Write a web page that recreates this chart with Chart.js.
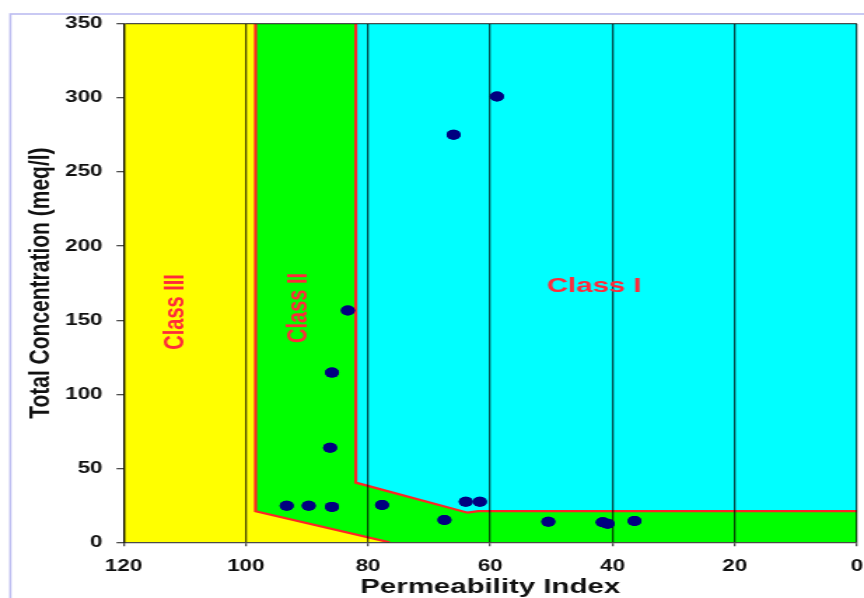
<!DOCTYPE html>
<html>
<head>
<meta charset="utf-8">
<script src="https://cdn.jsdelivr.net/npm/chart.js@4.4.1/dist/chart.umd.min.js"></script>
<style>
  html, body { margin: 0; padding: 0; background: #fff; overflow: hidden; }
  /* the original picture is stretched sideways, so draw narrow and widen it */
  #wrap { width: 617px; height: 598px; transform: scaleX(1.4003); transform-origin: 0 0; }
</style>
</head>
<body>
<div id="wrap"><canvas id="piChart" width="617" height="598"></canvas></div>
<script>
// samples: permeability index vs total concentration
const permIndex = [83.3, 85.9, 86.2, 93.3, 89.7, 85.9, 77.7, 67.5, 64.0, 61.7, 50.5, 41.6, 40.8, 36.4, 58.9, 66.0];
const totalConc = [156.5, 114.6, 63.9, 24.7, 24.7, 23.9, 25.2, 15.0, 27.4, 27.4, 13.9, 13.5, 12.5, 14.4, 301.1, 275.2];

// class regions (closed polygons, data units)
const class3X = [120, 120, 0, 0, 120];
const class3Y = [0, 350, 350, 0, 0];
const class2X = [98.4, 98.4, 76.5, 0, 0, 98.4];
const class2Y = [350, 21, 0, 0, 350, 350];
const class1X = [82, 82, 63.7, 62, 0, 0, 82];
const class1Y = [350, 40.3, 20, 21, 21, 350, 350];

// red boundary lines
const bound2X = [98.4, 98.4, 76.5];
const bound2Y = [350, 21, 0];
const bound1X = [82, 82, 63.7, 62, 0];
const bound1Y = [350, 40.3, 20, 21, 21];

const xTickValues = [120, 100, 80, 60, 40, 20, 0];
const yTickValues = [0, 50, 100, 150, 200, 250, 300, 350];

const classLabels = ['Class I', 'Class II', 'Class III'];
const labelX = [43, 91.3, 111.4];
const labelY = [173, 158.3, 155.6];
const labelRotated = [false, true, true];

const FONT = '"Liberation Sans", Arial, sans-serif';
const GRID = 'rgba(0,0,0,0.7)';

const toPoints = (xs, ys) => xs.map((v, i) => ({ x: v, y: ys[i] }));

function regionDataset(xs, ys, color, order) {
    return {
        type: 'line',
        data: toPoints(xs, ys),
        backgroundColor: color,
        borderWidth: 0,
        pointRadius: 0,
        fill: 'shape',
        order: order
    };
}

function boundaryDataset(xs, ys) {
    return {
        type: 'line',
        data: toPoints(xs, ys),
        borderColor: '#ff2424',
        borderWidth: 2.2,
        pointRadius: 0,
        fill: false,
        order: 1
    };
}

const framePlugin = {
    id: 'frame',
    beforeDraw(chart) {
        const ctx = chart.ctx;
        ctx.save();
        ctx.strokeStyle = '#bcbcf0';
        ctx.lineWidth = 1.6;
        ctx.strokeRect(7.4, 14, 800, 800);
        ctx.restore();
    }
};

const overlayPlugin = {
    id: 'overlay',
    afterDraw(chart) {
        // put the sample dots back above the grid lines
        chart.getDatasetMeta(0).controller.draw();

        const { ctx, scales: { x, y } } = chart;
        ctx.save();
        ctx.fillStyle = '#ff2a3a';
        ctx.textAlign = 'center';
        ctx.textBaseline = 'middle';
        classLabels.forEach((text, i) => {
            ctx.save();
            ctx.translate(x.getPixelForValue(labelX[i]), y.getPixelForValue(labelY[i]));
            if (labelRotated[i]) ctx.rotate(-Math.PI / 2);
            ctx.font = `bold ${labelRotated[i] ? 20 : 21}px ${FONT}`;
            ctx.fillText(text, 0, 0);
            ctx.restore();
        });
        ctx.restore();
    }
};

new Chart(document.getElementById('piChart'), {
    type: 'scatter',
    data: {
        datasets: [
            {
                data: toPoints(permIndex, totalConc),
                backgroundColor: '#000080',
                borderWidth: 0,
                pointRadius: 5,
                order: 0
            },
            boundaryDataset(bound1X, bound1Y),
            boundaryDataset(bound2X, bound2Y),
            regionDataset(class1X, class1Y, '#00ffff', 2),
            regionDataset(class2X, class2Y, '#00ff00', 3),
            regionDataset(class3X, class3Y, '#ffff00', 4)
        ]
    },
    options: {
        responsive: false,
        animation: false,
        devicePixelRatio: 1,
        layout: { padding: { top: 24, right: 4.1, bottom: 0, left: 0 } },
        plugins: {
            legend: { display: false },
            tooltip: { enabled: false }
        },
        scales: {
            x: {
                type: 'linear',
                reverse: true,
                min: 0,
                max: 120,
                afterBuildTicks: s => { s.ticks = xTickValues.map(v => ({ value: v })); },
                afterFit: s => { s.height = 55.7; s.paddingLeft = 0; s.paddingRight = 0; },
                grid: { z: 1, color: GRID, lineWidth: 1.3, tickColor: GRID, tickLength: 4 },
                border: { z: 1, color: GRID, width: 1.3 },
                ticks: {
                    autoSkip: false,
                    maxRotation: 0,
                    padding: 11,
                    color: '#111',
                    font: { family: FONT, size: 16, weight: 'bold' }
                },
                title: {
                    display: true,
                    text: 'Permeability Index',
                    color: '#111',
                    padding: { top: 0, bottom: 0 },
                    font: { family: FONT, size: 21, weight: 'bold', lineHeight: 1 }
                }
            },
            y: {
                type: 'linear',
                min: 0,
                max: 350,
                afterBuildTicks: s => { s.ticks = yTickValues.map(v => ({ value: v })); },
                afterFit: s => { s.width = 88.2; s.paddingTop = 0; s.paddingBottom = 0; },
                grid: {
                    z: 1,
                    color: c => (c.tick && c.tick.value === 350 ? GRID : 'rgba(0,0,0,0)'),
                    lineWidth: 1.3,
                    tickColor: GRID,
                    tickLength: 5
                },
                border: { z: 1, color: GRID, width: 1.3 },
                ticks: {
                    padding: 10,
                    color: '#111',
                    font: { family: FONT, size: 16, weight: 'bold' }
                },
                title: {
                    display: true,
                    text: 'Total Concentration (meq/l)',
                    color: '#111',
                    padding: { top: 19, bottom: 0 },
                    font: { family: FONT, size: 21, weight: 'bold', lineHeight: 1 }
                }
            }
        }
    },
    plugins: [framePlugin, overlayPlugin]
});
</script>
</body>
</html>
